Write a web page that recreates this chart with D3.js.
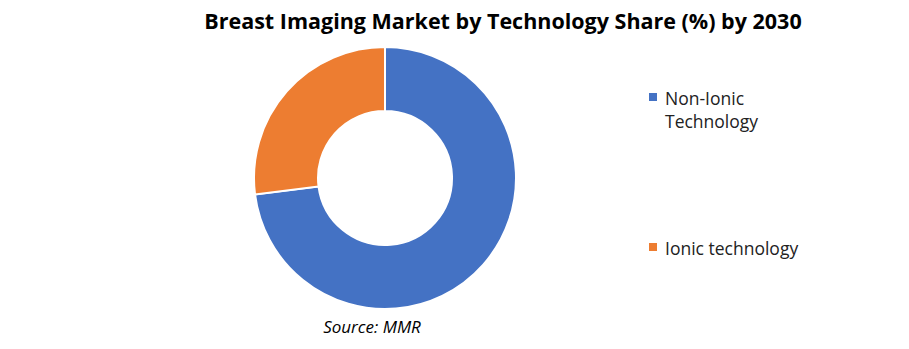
<!DOCTYPE html>
<html>
<head>
<meta charset="utf-8">
<script src="https://cdn.jsdelivr.net/npm/d3@7"></script>
<style>
  body { margin: 0; background: #fff; }
  svg { display: block; }
</style>
</head>
<body>
<div id="chart"></div>
<script>
var width = 909, height = 349;

// data
var categories = ['Non-Ionic Technology', 'Ionic technology'];
var legendLines = [['Non-Ionic', 'Technology'], ['Ionic technology']];
var shares = [73, 27];
var colors = ['#4472C4', '#ED7D31'];

var svg = d3.select('#chart').append('svg')
  .attr('width', width)
  .attr('height', height);

// title
svg.append('text')
  .attr('x', 503)
  .attr('y', 29)
  .attr('text-anchor', 'middle')
  .attr('font-family', 'Open Sans, sans-serif')
  .attr('font-weight', 'bold')
  .attr('font-size', 21.5)
  .attr('fill', '#000')
  .text('Breast Imaging Market by Technology Share (%) by 2030');

// donut
var pie = d3.pie().sort(null).value(function (d) { return d; });
var arc = d3.arc().innerRadius(67).outerRadius(131);

var g = svg.append('g')
  .attr('transform', 'translate(385,178)');

g.selectAll('path')
  .data(pie(shares))
  .enter()
  .append('path')
  .attr('d', arc)
  .attr('fill', function (d, i) { return colors[i]; })
  .attr('stroke', '#fff')
  .attr('stroke-width', 2);

// legend
var legend = svg.append('g')
  .selectAll('g')
  .data(categories)
  .enter()
  .append('g')
  .attr('transform', function (d, i) { return 'translate(649,' + [93, 243][i] + ')'; });

legend.append('rect')
  .attr('width', 8)
  .attr('height', 8)
  .attr('fill', function (d, i) { return colors[i]; });

legend.append('text')
  .attr('x', 16)
  .attr('y', 12)
  .attr('font-family', 'Open Sans, sans-serif')
  .attr('font-size', 17.5)
  .attr('fill', '#222')
  .selectAll('tspan')
  .data(function (d, i) { return legendLines[i]; })
  .enter()
  .append('tspan')
  .attr('x', 16)
  .attr('dy', function (d, i) { return i ? 23 : 0; })
  .text(function (d) { return d; });

// source
svg.append('text')
  .attr('x', 372)
  .attr('y', 333)
  .attr('text-anchor', 'middle')
  .attr('font-family', 'Open Sans, sans-serif')
  .attr('font-style', 'italic')
  .attr('font-size', 17)
  .attr('fill', '#000')
  .text('Source: MMR');
</script>
</body>
</html>
